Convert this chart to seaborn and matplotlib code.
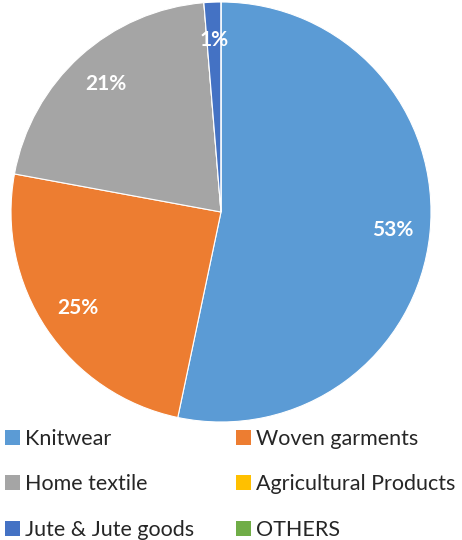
import matplotlib
matplotlib.use("Agg")
import matplotlib.pyplot as plt
from matplotlib.patches import Patch
import seaborn as sns

categories = ["Knitwear", "Woven garments", "Home textile",
              "Agricultural Products", "Jute & Jute goods", "OTHERS"]
shares = [53.3, 24.6, 20.8, 0.0, 1.3, 0.0]
colors = ["#5B9BD5", "#ED7D31", "#A5A5A5", "#FFC000", "#4472C4", "#70AD47"]

sns.set_theme(style="white")
plt.rcParams["font.family"] = ["Lato", "DejaVu Sans"]
palette = sns.color_palette(colors)

fig = plt.figure(figsize=(4.62, 5.40), dpi=100)
ax = fig.add_axes([11 / 462, 118 / 540, 420 / 462, 420 / 540])

wedges, texts, autotexts = ax.pie(
    shares,
    colors=palette,
    startangle=90,
    counterclock=False,
    autopct=lambda p: f"{p:.0f}%" if p >= 0.5 else "",
    pctdistance=0.82,
    wedgeprops=dict(edgecolor="white", linewidth=0.8),
    textprops=dict(color="white", fontsize=15, fontweight="bold"),
)
ax.set_xlim(-1.0, 1.0)
ax.set_ylim(-1.0, 1.0)
ax.set_aspect("equal")

# two legend columns placed separately, entries read row-wise
legend_kw = dict(
    loc="upper left", frameon=False, fontsize=15.5,
    handlelength=0.7, handleheight=0.7, handletextpad=0.25,
    labelspacing=1.18, borderpad=0.0, borderaxespad=0.0,
)
for col, x0 in ((0, 5 / 462), (1, 236 / 462)):
    idx = [col, col + 2, col + 4]
    fig.legend(
        [Patch(facecolor=palette[i], edgecolor="none") for i in idx],
        [categories[i] for i in idx],
        bbox_to_anchor=(x0, 1 - 429 / 540),
        **legend_kw,
    )

fig.savefig("out.png", dpi=100)
